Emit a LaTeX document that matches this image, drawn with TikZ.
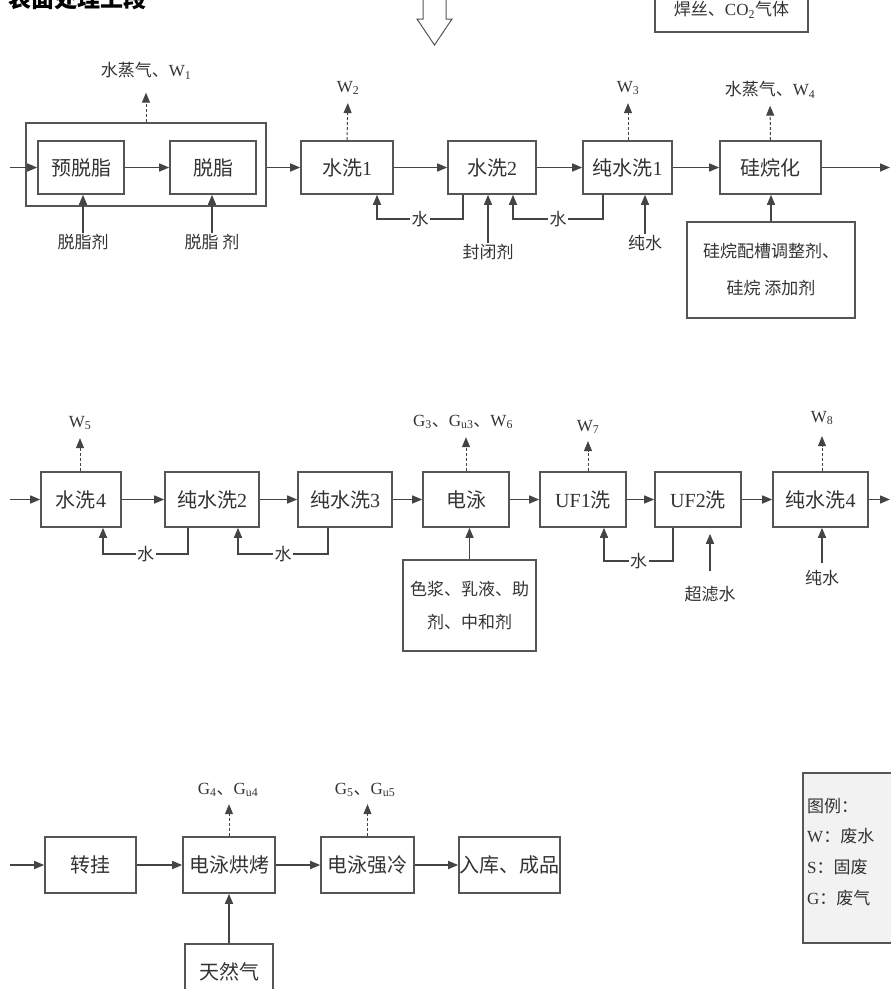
\documentclass[tikz,border=0pt]{standalone}
\usepackage{fontspec}
\setmainfont{Liberation Serif}
\newfontfamily\cjk{Noto Sans CJK SC}
\usetikzlibrary{arrows.meta}
\newcommand\myzh[1]{{\cjk #1}}
\definecolor{linec}{HTML}{444444}
\definecolor{boxc}{HTML}{555555}
\definecolor{txtc}{HTML}{333333}
\begin{document}
\begin{tikzpicture}[x=1pt,y=-1pt,
  box/.style={draw=boxc, line width=1.6pt, fill=white, minimum height=53pt, inner sep=0pt, text=txtc, font=\fontsize{20}{23}\selectfont},
  lbl/.style={font=\fontsize{17}{20}\selectfont, inner sep=1pt, text=txtc},
  arr/.style={draw=linec, line width=1.5pt, -{Triangle[length=10pt,width=8pt]}},
  dsh/.style={draw=linec, line width=1pt, dash pattern=on 3pt off 2pt, -{Triangle[length=10pt,width=8pt]}},
  wl/.style={lbl, fill=white, inner sep=1.5pt}]
\useasboundingbox (0,0) rectangle (891,989);
\clip (0,0) rectangle (891,989);

% ---------- top ----------
\node[anchor=west, text=black, font=\cjk\bfseries\fontsize{23}{26}\selectfont] (title) at (5,-1) {表面处理工段};
\draw[boxc, fill=white, line width=1pt] (423,-5) -- (446,-5) -- (446,19) -- (452,19) -- (434.5,45) -- (417,19) -- (423,19) -- cycle;
\node[box, minimum width=153pt, minimum height=44pt, font=\fontsize{17}{20}\selectfont] (hs) at (731.5,10) {\myzh{焊丝、}CO\textsubscript{2}\myzh{气体}};

% ---------- row 1 ----------
\node[box, minimum width=240pt, minimum height=83pt] (grp) at (146,164.5) {};
\node[box, minimum width=86pt] (pre) at (81,167.5) {\myzh{预脱脂}};
\node[box, minimum width=86pt] (tz) at (213,167.5) {\myzh{脱脂}};
\node[box, minimum width=92pt] (sx1) at (347,167.5) {\myzh{水洗}1};
\node[box, minimum width=88pt] (sx2) at (492,167.5) {\myzh{水洗}2};
\node[box, minimum width=89pt] (csx1) at (627.5,167.5) {\myzh{纯水洗}1};
\node[box, minimum width=101pt] (gwh) at (770.5,167.5) {\myzh{硅烷化}};
\node[box, minimum width=168pt, minimum height=96pt, align=center, font=\fontsize{17}{37}\selectfont] (gwb) at (771,270) {\myzh{硅烷配槽调整剂、}\\\myzh{硅烷 添加剂}};

\node[lbl] (w1) at (146,71) {\myzh{水蒸气、}W\textsubscript{1}};
\node[lbl] (tzj1) at (83,242) {\myzh{脱脂剂}};
\node[lbl] (tzj2) at (212,242) {\myzh{脱脂 剂}};
\node[lbl] (w2) at (348,88) {W\textsubscript{2}};
\node[lbl] (fbj) at (488,252) {\myzh{封闭剂}};
\node[lbl] (w3) at (628,88) {W\textsubscript{3}};
\node[lbl] (cs1) at (645,243) {\myzh{纯水}};
\node[lbl] (w4) at (770,90) {\myzh{水蒸气、}W\textsubscript{4}};

\coordinate (in1) at (10,167.5);
\coordinate (out1) at (890,167.5);
\draw[arr] (in1) -- (pre.west);
\draw[arr] (pre) -- (tz);
\draw[arr] (grp.east |- sx1) -- (sx1.west);
\draw[arr] (sx1) -- (sx2);
\draw[arr] (sx2) -- (csx1);
\draw[arr] (csx1) -- (gwh);
\draw[arr] (gwh.east) -- (out1);
\draw[dsh, shorten >=12pt] (grp.north) -- (w1.south);
\draw[dsh, shorten >=7pt] (sx1.north) -- (w2.south);
\draw[dsh, shorten >=7pt] ([xshift=0.5pt]csx1.north) -- (w3.south);
\draw[dsh, shorten >=6pt] (gwh.north) -- (w4.south);
\draw[arr] (tzj1.north) -- (tzj1.north |- pre.south);
\draw[arr] (tzj2.north) -- (tzj2.north |- tz.south);
\draw[arr] (fbj.north) -- (fbj.north |- sx2.south);
\draw[arr] (cs1.north) -- (cs1.north |- csx1.south);
\draw[arr] (gwb.north) -- (gwb.north |- gwh.south);
\draw[arr] ([xshift=-29pt]sx2.south) -- ++(0,24) -| ([xshift=30pt]sx1.south) node[wl, pos=0.25] {\myzh{水}};
\draw[arr] ([xshift=-24.5pt]csx1.south) -- ++(0,24) -| ([xshift=21pt]sx2.south) node[wl, pos=0.25] {\myzh{水}};

% ---------- row 2 ----------
\node[box, minimum width=80pt, minimum height=55pt] (sx4) at (81,499.5) {\myzh{水洗}4};
\node[box, minimum width=94pt, minimum height=55pt] (csx2) at (212,499.5) {\myzh{纯水洗}2};
\node[box, minimum width=94pt, minimum height=55pt] (csx3) at (345,499.5) {\myzh{纯水洗}3};
\node[box, minimum width=86pt, minimum height=55pt] (dy) at (466,499.5) {\myzh{电泳}};
\node[box, minimum width=133pt, minimum height=91pt, align=center, font=\fontsize{17}{33}\selectfont] (dyb) at (469.5,605.5) {\myzh{色浆、乳液、助}\\\myzh{剂、中和剂}};
\node[box, minimum width=86pt, minimum height=55pt] (uf1) at (583,499.5) {UF1\myzh{洗}};
\node[box, minimum width=86pt, minimum height=55pt] (uf2) at (698,499.5) {UF2\myzh{洗}};
\node[box, minimum width=95pt, minimum height=55pt] (csx4) at (820.5,499.5) {\myzh{纯水洗}4};

\node[lbl] (w5) at (80,423) {W\textsubscript{5}};
\node[lbl] (g3) at (463,422) {G\textsubscript{3}\myzh{、}G\textsubscript{u3}\myzh{、}W\textsubscript{6}};
\node[lbl] (w7) at (588,427) {W\textsubscript{7}};
\node[lbl] (w8) at (822,418) {W\textsubscript{8}};
\node[lbl] (clv) at (710,594) {\myzh{超滤水}};
\node[lbl] (cs4) at (822,578) {\myzh{纯水}};

\coordinate (in2) at (10,499.5);
\coordinate (out2) at (890,499.5);
\draw[arr] (in2) -- (sx4.west);
\draw[arr] (sx4) -- (csx2);
\draw[arr] (csx2) -- (csx3);
\draw[arr] (csx3) -- (dy);
\draw[arr] (dy) -- (uf1);
\draw[arr] (uf1) -- (uf2);
\draw[arr] (uf2) -- (csx4);
\draw[arr] (csx4.east) -- (out2);
\draw[dsh, shorten >=7pt] ([xshift=-1pt]sx4.north) -- (w5.south);
\draw[dsh, shorten >=7pt] (dy.north) -- (dy.north |- g3.south);
\draw[dsh, shorten >=6pt] (uf1.north -| w7) -- (w7.south);
\draw[dsh, shorten >=10pt] (csx4.north -| w8) -- (w8.south);
\draw[arr] (dyb.north) -- (dyb.north |- dy.south);
\draw[arr, shorten >=6pt] ([yshift=14pt]clv.north) -- (clv.north |- uf2.south);
\draw[arr] ([yshift=6pt]cs4.north) -- (cs4.north |- csx4.south);
\draw[arr] ([xshift=-24pt]csx2.south) -- ++(0,26) -| ([xshift=22pt]sx4.south) node[wl, pos=0.25] {\myzh{水}};
\draw[arr] ([xshift=-17pt]csx3.south) -- ++(0,26) -| ([xshift=26pt]csx2.south) node[wl, pos=0.25] {\myzh{水}};
\draw[arr] ([xshift=-25pt]uf2.south) -- ++(0,33) -| ([xshift=21pt]uf1.south) node[wl, pos=0.25] {\myzh{水}};

% ---------- row 3 ----------
\node[box, minimum width=91pt, minimum height=56pt] (zg) at (90.5,865) {\myzh{转挂}};
\node[box, minimum width=92pt, minimum height=56pt] (hk) at (229,865) {\myzh{电泳烘烤}};
\node[box, minimum width=93pt, minimum height=56pt] (ql) at (367.5,865) {\myzh{电泳强冷}};
\node[box, minimum width=101pt, minimum height=56pt] (rk) at (509.5,865) {\myzh{入库、成品}};
\node[box, minimum width=88pt, minimum height=56pt] (trq) at (229,972) {\myzh{天然气}};

\node[lbl] (g4) at (228,790) {G\textsubscript{4}\myzh{、}G\textsubscript{u4}};
\node[lbl] (g5) at (365,790) {G\textsubscript{5}\myzh{、}G\textsubscript{u5}};

\coordinate (in3) at (10,865);
\draw[arr] (in3) -- (zg.west);
\draw[arr] (zg) -- (hk);
\draw[arr] (hk) -- (ql);
\draw[arr] (ql) -- (rk);
\draw[arr] (trq) -- (hk);
\draw[dsh, shorten >=6pt] (hk.north) -- (hk.north |- g4.south);
\draw[dsh, shorten >=6pt] (ql.north) -- (ql.north |- g5.south);

% ---------- legend ----------
\node[draw=boxc, fill=black!5, line width=1.2pt, minimum width=110pt, minimum height=170pt] (leg) at (858,858) {};
\node[lbl, anchor=west] (l1) at (806,806) {\myzh{图例：}};
\node[lbl, anchor=west] (l2) at (806,836) {W\myzh{：废水}};
\node[lbl, anchor=west] (l3) at (806,867) {S\myzh{：固废}};
\node[lbl, anchor=west] (l4) at (806,898) {G\myzh{：废气}};
\end{tikzpicture}
\end{document}
